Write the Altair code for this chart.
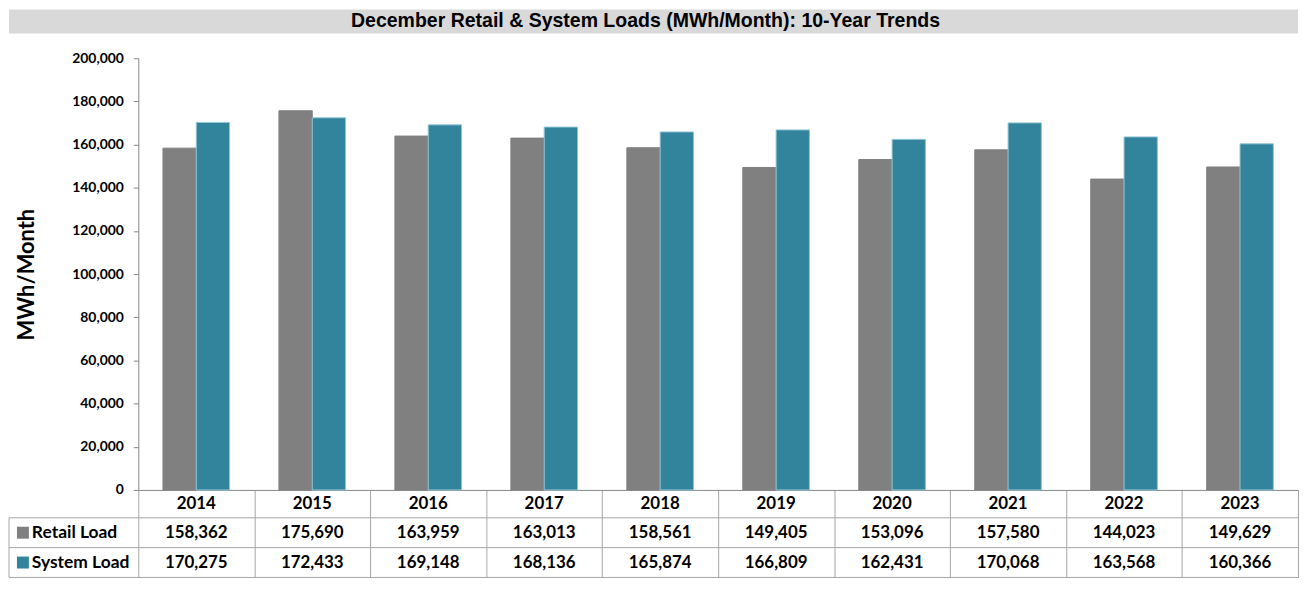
import altair as alt
import pandas as pd

years = ["2014", "2015", "2016", "2017", "2018", "2019", "2020", "2021", "2022", "2023"]
retail = [158362, 175690, 163959, 163013, 158561, 149405, 153096, 157580, 144023, 149629]
system = [170275, 172433, 169148, 168136, 165874, 166809, 162431, 170068, 163568, 160366]
series = ["Retail Load", "System Load"]
colors = ["#808080", "#31849B"]
strokes = ["#808080", "#93c7d6"]
y_ticks = [0, 20000, 40000, 60000, 80000, 100000, 120000, 140000, 160000, 180000, 200000]
title_text = "December Retail & System Loads (MWh/Month): 10-Year Trends"

rows = []
for i, yr in enumerate(years):
    rows.append({"year": yr, "series": series[0], "value": retail[i]})
    rows.append({"year": yr, "series": series[1], "value": system[i]})
df = pd.DataFrame(rows)

W = 1166
H = 434
FONT = "Lato"
GRID = "#a6a6a6"
AX = "#868686"

xscale = alt.Scale(domain=years, paddingInner=0, paddingOuter=0)

base = alt.Chart(df)

bars = base.mark_bar(strokeWidth=1).encode(
    x=alt.X("year:N", scale=xscale, sort=years,
            axis=alt.Axis(title=None, labels=False, tickBand="extent", tickSize=88,
                          tickColor=GRID, domainColor=AX, grid=False)),
    xOffset=alt.XOffset("series:N", sort=series,
                        scale=alt.Scale(paddingInner=0, paddingOuter=0.74)),
    y=alt.Y("value:Q", scale=alt.Scale(domain=[0, 200000], nice=False),
            axis=alt.Axis(title="MWh/Month", values=y_ticks, format=",d", grid=False,
                          domainColor=AX, tickColor=AX, tickSize=5, labelPadding=10,
                          labelFont=FONT, labelFontSize=14, labelFontWeight="bold",
                          labelColor="#000000",
                          titleFont=FONT, titleFontSize=22, titleFontWeight="bold",
                          titleColor="#000000", titlePadding=33)),
    color=alt.Color("series:N", scale=alt.Scale(domain=series, range=colors), legend=None),
    stroke=alt.Stroke("series:N", scale=alt.Scale(domain=series, range=strokes), legend=None),
)

one = pd.DataFrame({"k": [0]})

band = alt.Chart(one).mark_rect(color="#d9d9d9").encode(
    x=alt.value(-130), x2=alt.value(W), y=alt.value(-49), y2=alt.value(-25))
title = alt.Chart(pd.DataFrame({"t": [title_text]})).mark_text(
    font="Liberation Sans", fontSize=19.6, fontWeight="bold", color="#000000",
    baseline="middle", align="center").encode(
    x=alt.value(510), y=alt.value(-37), text="t:N")

def hrule(ypix):
    return alt.Chart(one).mark_rule(color=GRID, strokeWidth=1).encode(
        x=alt.value(-130), x2=alt.value(W), y=alt.value(ypix))

vrule = alt.Chart(one).mark_rule(color=GRID, strokeWidth=1).encode(
    x=alt.value(-130), y=alt.value(H + 28), y2=alt.value(H + 88))

yr_df = pd.DataFrame({"year": years})
year_labels = alt.Chart(yr_df).mark_text(
    font=FONT, fontSize=17, fontWeight="bold", color="#000000", baseline="middle").encode(
    x=alt.X("year:N", scale=xscale, sort=years), y=alt.value(H + 14), text="year:N")

row_y = {series[0]: H + 43, series[1]: H + 73}

table_text = []
for s in series:
    table_text.append(
        base.transform_filter(alt.datum.series == s).mark_text(
            font=FONT, fontSize=17, fontWeight="bold", color="#000000", baseline="middle").encode(
            x=alt.X("year:N", scale=xscale, sort=years), y=alt.value(row_y[s]),
            text=alt.Text("value:Q", format=",d")))

leg_sq = []
leg_tx = []
for s, c in zip(series, colors):
    d = pd.DataFrame({"series": [s]})
    leg_sq.append(alt.Chart(d).mark_square(size=144, opacity=1, color=c).encode(
        x=alt.value(-116), y=alt.value(row_y[s])))
    leg_tx.append(alt.Chart(d).mark_text(
        font=FONT, fontSize=17.5, fontWeight="bold", color="#000000",
        baseline="middle", align="left").encode(
        x=alt.value(-107), y=alt.value(row_y[s]), text="series:N"))

chart = alt.layer(
    band, title, bars, hrule(H + 28), hrule(H + 58), hrule(H + 88), vrule, year_labels,
    *table_text, *leg_sq, *leg_tx
).properties(width=W, height=H, padding=0).configure_view(strokeWidth=0)

chart.save("out.html", embed_options={"renderer": "svg", "actions": False})
